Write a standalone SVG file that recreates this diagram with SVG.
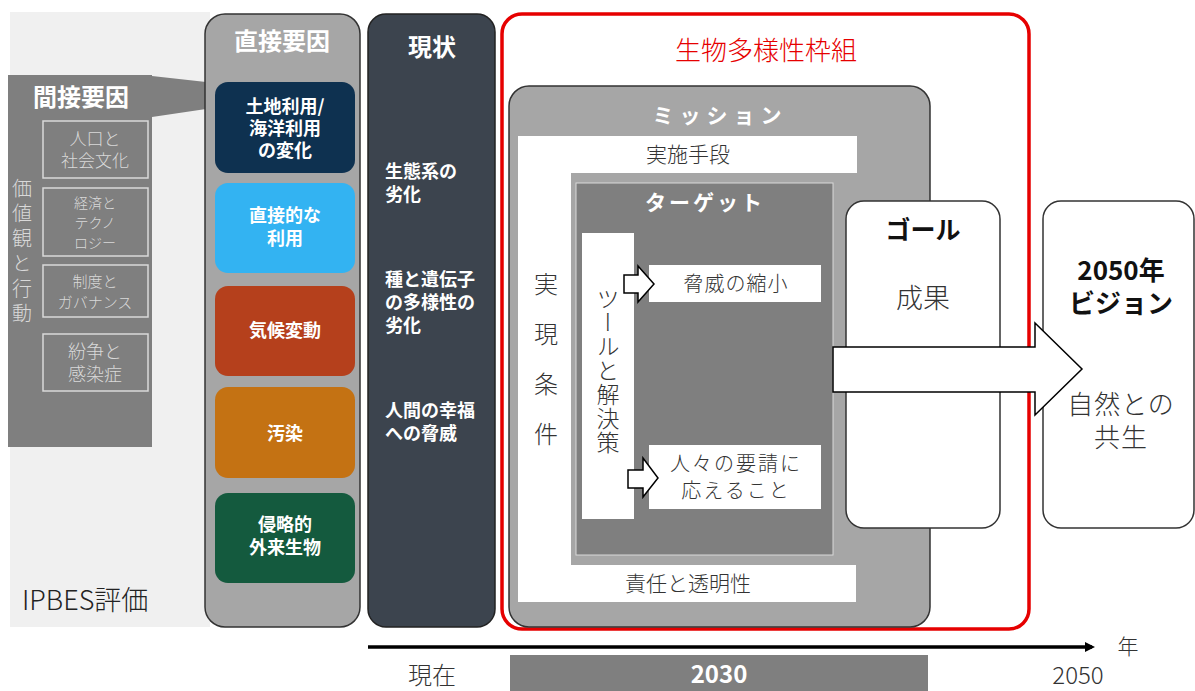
<svg xmlns="http://www.w3.org/2000/svg" width="1195" height="691" viewBox="0 0 1195 691">
<style>
text{font-family:"Noto Sans CJK JP","Noto Sans",sans-serif;text-anchor:middle}
.b{font-weight:bold}
.l{font-weight:300}
.w{fill:#ffffff}
.lg{fill:#d9d9d9}
.dk{fill:#333333}
.vt{writing-mode:vertical-rl;text-anchor:start}
.sub{fill:none;stroke:#d9d9d9;stroke-width:1.5}
.hollow{fill:#ffffff;stroke:#000000;stroke-width:1.5}
</style>
<defs>
<marker id="ah" markerWidth="10" markerHeight="10" refX="7" refY="5" orient="auto" markerUnits="userSpaceOnUse">
<path d="M0,0 L10,5 L0,10 Z" fill="#000"/>
</marker>
</defs>
<rect width="1195" height="691" fill="#ffffff"/>

<g id="ipbes">
<rect x="10" y="12" width="200" height="615" fill="#f0f0f0"/>
<text x="22" y="610" font-size="27" fill="#222" class="l" style="text-anchor:start">IPBES評価</text>
</g>

<g id="indirect">
<rect x="8" y="75" width="144" height="372" fill="#7f7f7f"/>
<polygon points="152,76 206,82 206,109 152,117" fill="#7f7f7f"/>
<text x="81" y="106" font-size="24" class="b w">間接要因</text>
<text x="22" y="178" font-size="20" class="lg l vt" letter-spacing="5">価値観と行動</text>
<rect x="43" y="121" width="105" height="57" class="sub"/>
<text x="95" y="145" font-size="17" class="lg l"><tspan x="95">人口と</tspan><tspan x="95" dy="22">社会文化</tspan></text>
<rect x="43" y="188" width="105" height="68" class="sub"/>
<text x="95" y="208" font-size="14" class="lg l"><tspan x="95">経済と</tspan><tspan x="95" dy="20">テクノ</tspan><tspan x="95" dy="20">ロジー</tspan></text>
<rect x="43" y="265" width="105" height="52" class="sub"/>
<text x="95" y="287" font-size="15" class="lg l"><tspan x="95">制度と</tspan><tspan x="95" dy="21">ガバナンス</tspan></text>
<rect x="43" y="334" width="105" height="57" class="sub"/>
<text x="95" y="358" font-size="18" class="lg l"><tspan x="95">紛争と</tspan><tspan x="95" dy="23">感染症</tspan></text>
</g>

<g id="direct">
<rect x="205" y="14" width="155" height="613" rx="20" fill="#a6a6a6" stroke="#333" stroke-width="1.5"/>
<text x="282" y="50" font-size="24" class="b w">直接要因</text>
<rect x="215" y="82" width="140" height="91" rx="13" fill="#0e3150"/>
<text x="285" y="113" font-size="18" class="b w"><tspan x="285">土地利用/</tspan><tspan x="285" dy="22">海洋利用</tspan><tspan x="285" dy="22">の変化</tspan></text>
<rect x="215" y="183" width="140" height="90" rx="13" fill="#33b3f2"/>
<text x="285" y="222" font-size="18" class="b w"><tspan x="285">直接的な</tspan><tspan x="285" dy="23">利用</tspan></text>
<rect x="215" y="286" width="140" height="90" rx="13" fill="#b5401c"/>
<text x="285" y="337" font-size="18" class="b w">気候変動</text>
<rect x="215" y="387" width="140" height="91" rx="13" fill="#c47213"/>
<text x="285" y="440" font-size="18" class="b w">汚染</text>
<rect x="215" y="493" width="140" height="90" rx="13" fill="#145a3e"/>
<text x="285" y="531" font-size="18" class="b w"><tspan x="285">侵略的</tspan><tspan x="285" dy="23">外来生物</tspan></text>
</g>

<g id="status">
<rect x="368" y="14" width="127" height="613" rx="18" fill="#3c444e" stroke="#222" stroke-width="1.5"/>
<text x="432" y="56" font-size="24" class="b w">現状</text>
<text x="385" y="178" font-size="18" class="b w" style="text-anchor:start"><tspan x="385">生態系の</tspan><tspan x="385" dy="23">劣化</tspan></text>
<text x="385" y="286" font-size="18" class="b w" style="text-anchor:start"><tspan x="385">種と遺伝子</tspan><tspan x="385" dy="23">の多様性の</tspan><tspan x="385" dy="23">劣化</tspan></text>
<text x="385" y="417" font-size="18" class="b w" style="text-anchor:start"><tspan x="385">人間の幸福</tspan><tspan x="385" dy="23">への脅威</tspan></text>
</g>

<g id="framework">
<rect x="502" y="14" width="527" height="615" rx="20" fill="#ffffff" stroke="#e60000" stroke-width="3.5"/>
<text x="766" y="60" font-size="26" fill="#e60000" class="l">生物多様性枠組</text>
</g>

<g id="mission">
<rect x="509" y="86" width="421" height="541" rx="20" fill="#a6a6a6" stroke="#333" stroke-width="1.5"/>
<text x="720" y="123" font-size="21" class="b w" letter-spacing="6">ミッション</text>
<polygon points="518,136 857,136 857,173 571,173 571,565 856,565 856,602 518,602" fill="#ffffff"/>
<text x="688" y="162" font-size="21" class="dk l">実施手段</text>
<text x="688" y="591" font-size="21" class="dk l">責任と透明性</text>
<text x="546" y="272" font-size="24" class="dk l vt" letter-spacing="26">実現条件</text>
</g>

<g id="target">
<rect x="576" y="183" width="257" height="372" fill="#7f7f7f" stroke="#d9d9d9" stroke-width="1"/>
<text x="705" y="210" font-size="21" class="b w" letter-spacing="3">ターゲット</text>
</g>

<g id="tools">
<rect x="582" y="233" width="52" height="286" fill="#ffffff"/>
<text x="608" y="287" font-size="23" class="dk l vt" letter-spacing="1">ツールと解決策</text>
</g>

<g id="threat">
<rect x="649" y="265" width="172" height="37" fill="#ffffff"/>
<text x="736" y="291" font-size="20" class="dk l" letter-spacing="1">脅威の縮小</text>
</g>

<g id="needs">
<rect x="649" y="445" width="172" height="64" fill="#ffffff"/>
<text x="736" y="471" font-size="20" class="dk l" letter-spacing="2"><tspan x="736">人々の要請に</tspan><tspan x="736" dy="27">応えること</tspan></text>
</g>

<g id="goal">
<rect x="846" y="201" width="154" height="327" rx="18" fill="#ffffff" stroke="#333" stroke-width="1.5"/>
<text x="923" y="239" font-size="25" class="b" fill="#111">ゴール</text>
<text x="923" y="308" font-size="27" class="dk l">成果</text>
</g>

<g id="vision">
<rect x="1043" y="201" width="151" height="327" rx="18" fill="#ffffff" stroke="#333" stroke-width="1.5"/>
<text x="1121" y="280" font-size="26" class="b" fill="#111"><tspan x="1121">2050年</tspan><tspan x="1121" dy="33">ビジョン</tspan></text>
<text x="1121" y="414" font-size="26" class="dk l" letter-spacing="1"><tspan x="1121">自然との</tspan><tspan x="1121" dy="33">共生</tspan></text>
</g>

<g id="connectors">
<polygon points="624,275 638,275 638,266 654,284 638,302 638,293 624,293" class="hollow"/>
<polygon points="628,470 643,470 643,458 658,478 643,497 643,488 628,488" class="hollow"/>
<polygon points="833,347 1035,347 1035,323 1082,369 1035,415 1035,392 833,392" class="hollow"/>
<line x1="368" y1="647" x2="1092" y2="647" stroke="#000" stroke-width="3.5" marker-end="url(#ah)"/>
</g>

<g id="timeline">
<rect x="510" y="655" width="418" height="36" fill="#7f7f7f"/>
<text x="719" y="683" font-size="24" class="b w">2030</text>
<text x="432" y="684" font-size="24" class="dk l">現在</text>
<text x="1078" y="684" font-size="24" class="dk l">2050</text>
<text x="1128" y="654" font-size="21" class="dk l">年</text>
</g>
</svg>
